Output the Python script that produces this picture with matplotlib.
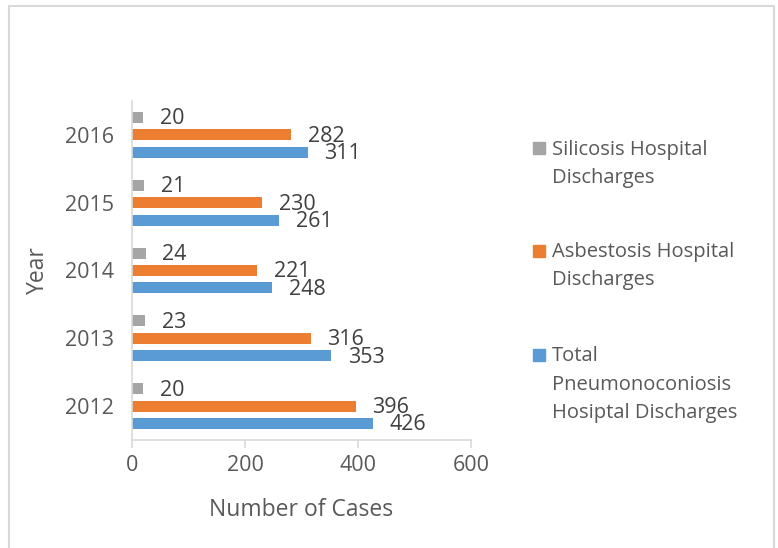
import numpy as np
import matplotlib
matplotlib.use("Agg")
import matplotlib.pyplot as plt
from matplotlib.patches import Rectangle

# data
years = ["2012", "2013", "2014", "2015", "2016"]
total = [426, 353, 248, 261, 311]
asbestosis = [396, 316, 221, 230, 282]
silicosis = [20, 23, 24, 21, 20]

series = [
    ("Total\nPneumonoconiosis\nHosiptal Discharges", total, "#5B9BD5", -0.257),
    ("Asbestosis Hospital\nDischarges", asbestosis, "#ED7D31", 0.0),
    ("Silicosis Hospital\nDischarges", silicosis, "#A5A5A5", 0.257),
]

plt.rcParams['font.family'] = ['Open Sans', 'DejaVu Sans']
FS = 15.5     # numbers
FT = 16.5     # axis titles
FL = 14.5     # legend
W, H = 778, 548
fig = plt.figure(figsize=(W / 100, H / 100), dpi=100)

def fx(px):
    return px / W

def fy(py):
    return 1 - py / H

ax = fig.add_axes([fx(132), fy(440), fx(471) - fx(132), fy(101) - fy(440)])

y = np.arange(len(years))
for name, vals, col, off in series:
    bars = ax.barh(y + off, vals, height=0.162, color=col)
    for b, v in zip(bars, vals):
        ax.annotate(str(v), (b.get_width(), b.get_y() + b.get_height() / 2),
                    xytext=(12, -1), textcoords="offset points",
                    ha="left", va="center", fontsize=FS, color="#404040")

ax.set_xlim(0, 600)
ax.set_ylim(-0.5, 4.5)
ax.set_xticks([0, 200, 400, 600])
ax.set_yticks(y)
ax.set_yticklabels(years)
ax.tick_params(axis="x", length=6, width=1.2, color="#d9d9d9", pad=5,
               labelsize=FS, labelcolor="#595959")
ax.tick_params(axis="y", length=0, pad=13, labelsize=FS, labelcolor="#595959")
for s in ["top", "right"]:
    ax.spines[s].set_visible(False)
for s in ["left", "bottom"]:
    ax.spines[s].set_color("#d9d9d9")
    ax.spines[s].set_linewidth(1.2)

ax.set_xlabel("Number of Cases", fontsize=FT, color="#595959", va="center")
ax.xaxis.set_label_coords(0.5, (440 - 510) / 339)
ax.set_ylabel("Year", fontsize=FT, color="#595959", va="center")
ax.yaxis.set_label_coords((38 - 132) / 339, 0.5)

# legend, drawn by hand to match the layout
leg = [
    (series[2], 147.5, [155, 183]),
    (series[1], 250.5, [257, 285]),
    (series[0], 355, [361, 390, 418]),
]
for (name, vals, col, off), my, bases in leg:
    fig.patches.append(Rectangle((fx(533), fy(my + 6)), fx(12), 12 / H,
                                 transform=fig.transFigure, color=col))
    for line, by in zip(name.split("\n"), bases):
        fig.text(fx(552), fy(by), line, ha="left", va="baseline",
                 fontsize=FL, color="#595959")

# chart border
fig.patches.append(Rectangle((fx(9), -0.02), fx(774) - fx(9), fy(6) + 0.02,
                             transform=fig.transFigure, fill=False,
                             edgecolor="#d9d9d9", linewidth=1.5))

fig.savefig("out.png", dpi=100)
